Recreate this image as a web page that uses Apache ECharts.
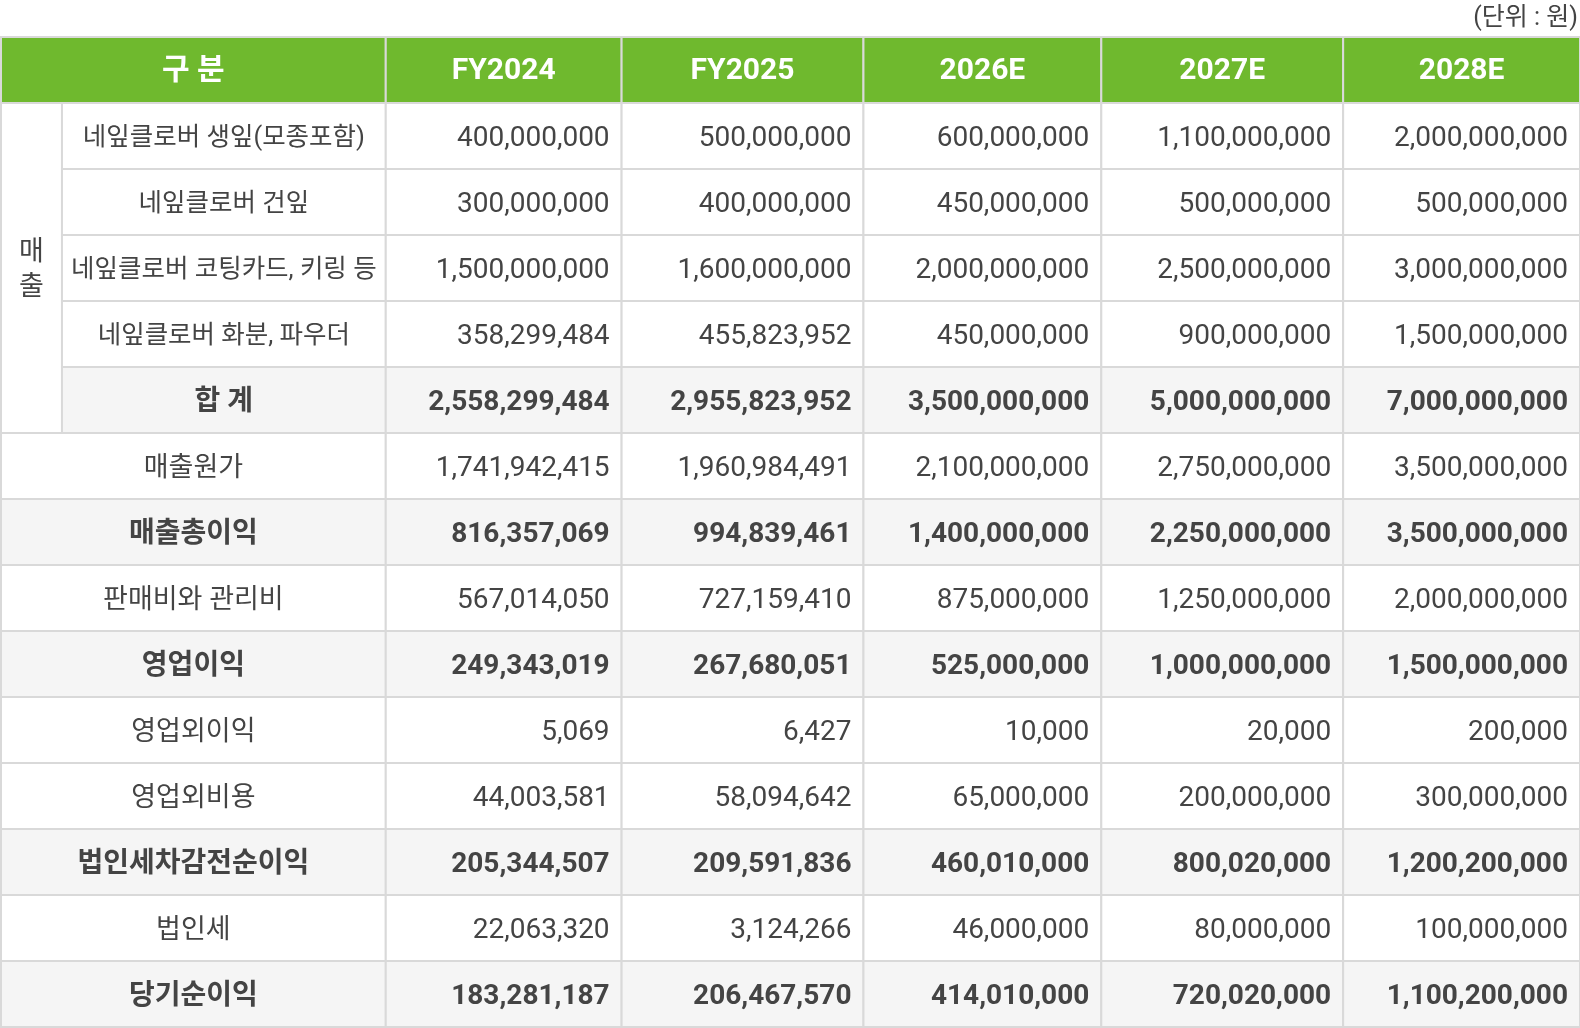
<!DOCTYPE html>
<html><head><meta charset="utf-8">
<script src="https://cdn.jsdelivr.net/npm/echarts@6/dist/echarts.min.js"></script>
<style>html,body{margin:0;padding:0;background:#fff}#c{width:1580px;height:1028px}</style>
</head><body><div id="c"></div>
<script>
// ---- data ----
const unitLabel = '(단위 : 원)';
const headerLabel = '구 분';
const years = ['FY2024', 'FY2025', '2026E', '2027E', '2028E'];
const groupLabel = '매출';
const rowLabels = [
  '네잎클로버 생잎(모종포함)', '네잎클로버 건잎', '네잎클로버 코팅카드, 키링 등', '네잎클로버 화분, 파우더', '합 계',
  '매출원가', '매출총이익', '판매비와 관리비', '영업이익', '영업외이익', '영업외비용', '법인세차감전순이익', '법인세', '당기순이익'
];
const salesLeaf = [400000000, 500000000, 600000000, 1100000000, 2000000000];
const salesDried = [300000000, 400000000, 450000000, 500000000, 500000000];
const salesCard = [1500000000, 1600000000, 2000000000, 2500000000, 3000000000];
const salesPowder = [358299484, 455823952, 450000000, 900000000, 1500000000];
const salesTotal = [2558299484, 2955823952, 3500000000, 5000000000, 7000000000];
const costOfSales = [1741942415, 1960984491, 2100000000, 2750000000, 3500000000];
const grossProfit = [816357069, 994839461, 1400000000, 2250000000, 3500000000];
const sga = [567014050, 727159410, 875000000, 1250000000, 2000000000];
const operatingProfit = [249343019, 267680051, 525000000, 1000000000, 1500000000];
const nonOpIncome = [5069, 6427, 10000, 20000, 200000];
const nonOpExpense = [44003581, 58094642, 65000000, 200000000, 300000000];
const preTaxIncome = [205344507, 209591836, 460010000, 800020000, 1200200000];
const incomeTax = [22063320, 3124266, 46000000, 80000000, 100000000];
const netIncome = [183281187, 206467570, 414010000, 720020000, 1100200000];
const rowValues = [salesLeaf, salesDried, salesCard, salesPowder, salesTotal, costOfSales, grossProfit, sga,
  operatingProfit, nonOpIncome, nonOpExpense, preTaxIncome, incomeTax, netIncome];
const boldRows = ['합 계', '매출총이익', '영업이익', '법인세차감전순이익', '당기순이익'];
const groupSize = 5;

// ---- layout ----
const colEdges = [0, 61, 385, 621, 863, 1101, 1343, 1580];
const FONT = 'Roboto, "Noto Sans CJK KR", sans-serif';
const KFONT = 'Roboto, "Noto Sans CJK KR", sans-serif';
const TEXT = '#444444';
const BORDER = '#d9d9d9';
const GREEN = '#6fb92e';
const BOLDBG = '#f5f5f5';

const rowsAll = [headerLabel].concat(rowLabels);

const chart = echarts.init(document.getElementById('c'));
chart.setOption({
  animation: false,
  backgroundColor: '#fff',
  title: {
    text: unitLabel, right: 2, top: 6, padding: 0,
    textStyle: { fontFamily: KFONT, fontSize: 25, fontWeight: 'normal', color: TEXT }
  },
  grid: { left: 1, right: 0, top: 37, bottom: 1 },
  xAxis: { type: 'value', min: 0, max: 1580, show: false },
  yAxis: { type: 'category', data: rowsAll, inverse: true, show: false },
  series: [{
    type: 'custom',
    coordinateSystem: 'cartesian2d',
    data: rowsAll.map((_, i) => [0, i]),
    encode: { x: 0, y: 1 },
    renderItem: function (params, api) {
      const r = api.value(1);
      const h = api.size([0, 1])[1];
      const yc = api.coord([0, r])[1];
      const top = yc - h / 2, bot = yc + h / 2;
      const X = e => api.coord([colEdges[e], r])[0];
      const ch = [];
      const cell = (x0, x1, y0, y1, fill) => ch.push({
        type: 'rect', shape: { x: x0, y: y0, width: x1 - x0, height: y1 - y0 },
        style: { fill: fill, stroke: BORDER, lineWidth: 2 }
      });
      const txt = (s, x, y, align, bold, color, size, font, lh) => ch.push({
        type: 'text',
        style: {
          text: s, x: x, y: y, align: align, verticalAlign: 'middle',
          fill: color, fontSize: size, fontWeight: bold ? 'bold' : 'normal',
          fontFamily: font, lineHeight: lh || size * 1.2
        }
      });
      if (r === 0) {
        cell(X(0), X(2), top, bot, GREEN);
        txt(headerLabel, (X(0) + X(2)) / 2, yc + 1, 'center', true, '#fff', 30, KFONT);
        years.forEach((y, k) => {
          cell(X(2 + k), X(3 + k), top, bot, GREEN);
          txt(y, (X(2 + k) + X(3 + k)) / 2, yc + 1, 'center', true, '#fff', 30, FONT);
        });
      } else {
        const i = r - 1;
        const label = rowLabels[i];
        const bold = boldRows.indexOf(label) >= 0;
        const bg = bold ? BOLDBG : '#fff';
        const inGroup = i < groupSize;
        const lsize = bold ? 28 : (inGroup ? 25.5 : 27);
        if (inGroup) {
          if (i === 0) {
            cell(X(0), X(1), top, top + h * groupSize, '#fff');
            txt(groupLabel.split('').join('\n'), (X(0) + X(1)) / 2, top + h * groupSize / 2 + 3, 'center', false, TEXT, 27, KFONT, 35);
          }
          cell(X(1), X(2), top, bot, bg);
          txt(label, (X(1) + X(2)) / 2, yc + 3, 'center', bold, TEXT, lsize, KFONT);
        } else {
          cell(X(0), X(2), top, bot, bg);
          txt(label, (X(0) + X(2)) / 2, yc + 3, 'center', bold, TEXT, lsize, KFONT);
        }
        rowValues[i].forEach((v, k) => {
          cell(X(2 + k), X(3 + k), top, bot, bg);
          txt(v.toLocaleString('en-US'), X(3 + k) - 12, yc + 3, 'right', bold, TEXT, 28, FONT);
        });
      }
      return { type: 'group', children: ch };
    }
  }]
});
</script>
</body></html>
